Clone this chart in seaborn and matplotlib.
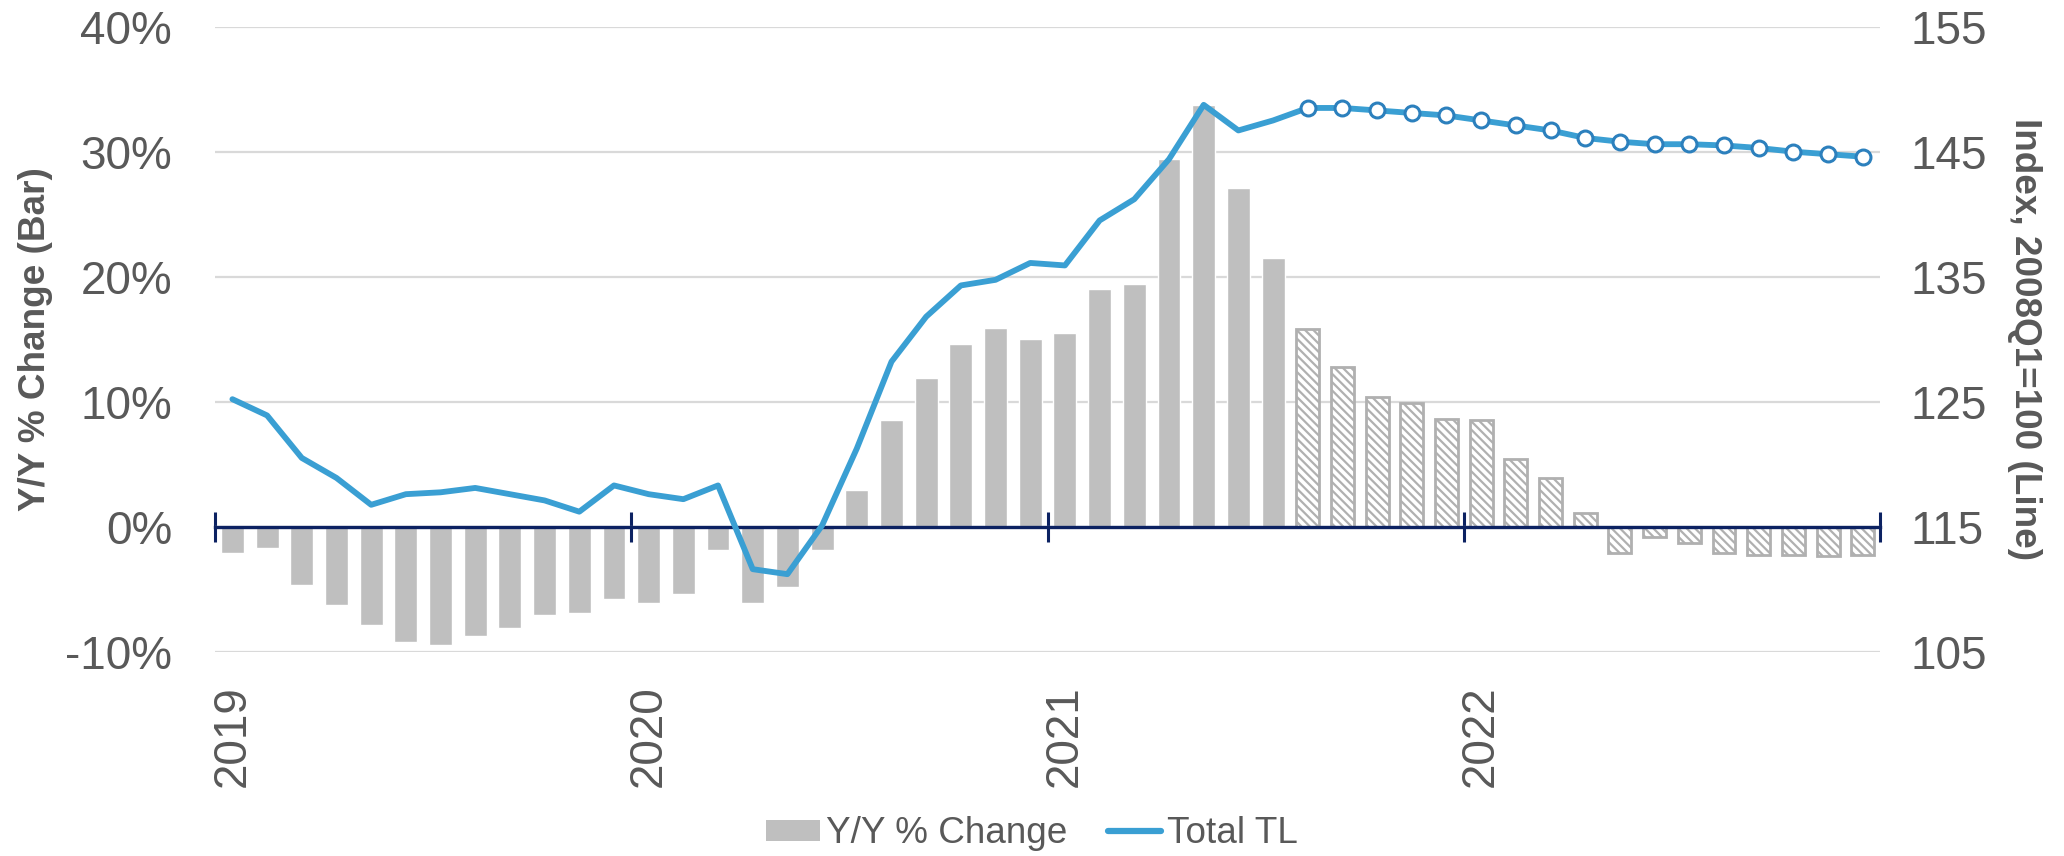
import numpy as np
import pandas as pd
import seaborn as sns
import matplotlib.pyplot as plt
from matplotlib.patches import Patch
from matplotlib.lines import Line2D
from matplotlib.ticker import PercentFormatter

# monthly categories, Jan 2019 - Dec 2022
months = pd.date_range('2019-01-01', periods=48, freq='MS').strftime('%Y-%m').tolist()

# Y/Y % change (bars)
yoy_pct = [-2.1, -1.7, -4.7, -6.25, -7.9, -9.2, -9.5, -8.75, -8.1, -7.1, -6.9, -5.8,
           -6.1, -5.4, -1.9, -6.1, -4.8, -1.9, 2.9, 8.5, 11.9, 14.6, 15.9, 15.0,
           15.5, 19.0, 19.4, 29.4, 33.7, 27.1, 21.5, 15.8, 12.8, 10.4, 9.9, 8.6,
           8.5, 5.4, 3.9, 1.1, -2.1, -0.8, -1.3, -2.1, -2.25, -2.3, -2.35, -2.3]

# Total TL index, 2008Q1=100 (line)
total_tl = [125.2, 123.9, 120.5, 118.9, 116.75, 117.6, 117.75, 118.1, 117.6, 117.1, 116.2, 118.3,
            117.6, 117.2, 118.3, 111.6, 111.2, 115.1, 121.25, 128.2, 131.8, 134.3, 134.75, 136.1,
            135.9, 139.5, 141.2, 144.4, 148.75, 146.7, 147.5, 148.5, 148.5, 148.3, 148.1, 147.9,
            147.5, 147.1, 146.7, 146.1, 145.8, 145.6, 145.6, 145.5, 145.3, 145.0, 144.8, 144.6]

first_forecast = '2021-08'
year_labels = ['2019', '2020', '2021', '2022']

BAR_GREY = '#BFBFBF'
HATCH_GREY = '#B0B0B0'
LINE_BLUE = '#3A9FD3'
MARKER_BLUE = '#2C80BD'
NAVY = '#0C2262'
GRID = '#D9D9D9'
TEXT = '#595959'

sns.set_style('white')
plt.rcParams['font.family'] = ['Liberation Sans', 'DejaVu Sans']
plt.rcParams['axes.unicode_minus'] = False
plt.rcParams['hatch.linewidth'] = 1.6

df = pd.DataFrame({'month': months, 'yoy': yoy_pct, 'index': total_tl})
df['pos'] = np.arange(len(df))
df['forecast'] = df['month'] >= first_forecast

fig = plt.figure(figsize=(20.64, 8.56), dpi=100)
ax = fig.add_axes([0.1042, 0.2387, 0.8067, 0.7301])

# bars
sns.barplot(data=df, x='month', y='yoy', order=months, color=BAR_GREY, saturation=1,
            width=0.66, errorbar=None, ax=ax, zorder=2)
for patch, is_fc in zip(ax.patches, df['forecast']):
    if is_fc:
        patch.set_facecolor('white')
        patch.set_edgecolor(HATCH_GREY)
        patch.set_hatch('\\\\\\\\')
        patch.set_linewidth(2.0)

ax.set_ylim(-10, 40)
ax.set_yticks([-10, 0, 10, 20, 30, 40])
ax.yaxis.set_major_formatter(PercentFormatter(decimals=0))
ax.grid(axis='y', color=GRID, lw=1.6)
ax.set_axisbelow(True)
for s in ['top', 'left', 'right']:
    ax.spines[s].set_visible(False)
ax.spines['bottom'].set_position(('data', 0))
ax.spines['bottom'].set_color(NAVY)
ax.spines['bottom'].set_linewidth(2.4)

# tick marks on the zero line at year boundaries
ax.set_xticks(np.arange(-0.5, len(months), 12))
ax.tick_params(axis='x', bottom=True, direction='inout', length=21, width=2.2, color=NAVY,
               labelbottom=False)
ax.tick_params(axis='y', length=0, pad=31, labelsize=33, labelcolor=TEXT)
ax.set_xlabel('')
ax.set_ylabel('Y/Y % Change (Bar)', fontsize=26.6, fontweight='bold', color=TEXT, va='center')
ax.yaxis.set_label_coords(-0.108, 0.5)

# year labels along the bottom
sec = ax.secondary_xaxis(0.0)
sec.set_xticks(df.loc[df['month'].str.endswith('-01'), 'pos'].tolist(), year_labels)
sec.tick_params(length=0, pad=24, labelsize=33, labelcolor=TEXT, labelrotation=90)
sec.spines['bottom'].set_visible(False)

# line on the right axis
ax2 = ax.twinx()
sns.lineplot(data=df, x='pos', y='index', color=LINE_BLUE, lw=4.2, ax=ax2, legend=False, zorder=3)
sns.scatterplot(data=df[df['forecast']], x='pos', y='index', marker='o', s=115,
                facecolor='white', edgecolor=MARKER_BLUE, linewidth=2.2, ax=ax2, zorder=4)
ax2.set_ylim(105, 155)
ax2.set_yticks(np.arange(105, 156, 10))
ax2.grid(False)
for s in ax2.spines.values():
    s.set_visible(False)
ax2.tick_params(axis='y', length=0, pad=22, labelsize=33, labelcolor=TEXT)
ax2.set_xlabel('')
ax2.set_ylabel('Index, 2008Q1=100 (Line)', rotation=270, fontsize=26.6, fontweight='bold',
               color=TEXT, va='center')
ax2.yaxis.set_label_coords(1.087, 0.5)
ax.set_xlim(-0.5, len(months) - 0.5)

handles = [Patch(facecolor=BAR_GREY, edgecolor='none', label='Y/Y % Change'),
           Line2D([], [], color=LINE_BLUE, lw=4.5, label='Total TL')]
fig.legend(handles=handles, loc='center', bbox_to_anchor=(0.5, 0.026), ncol=2, frameon=False,
           fontsize=26.6, handlelength=1.45, handleheight=0.5, handletextpad=0.15,
           columnspacing=1.1, labelcolor=TEXT)

fig.savefig('out.png', dpi=100)
